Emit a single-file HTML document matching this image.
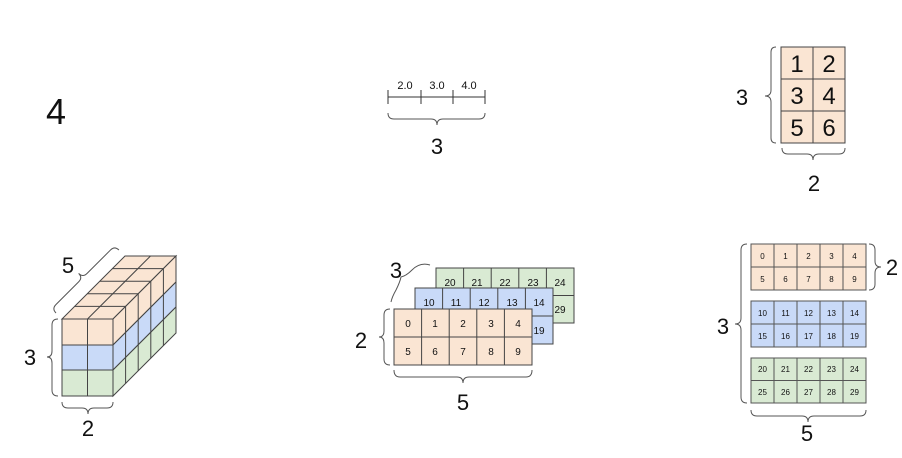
<!DOCTYPE html>
<html><head><meta charset="utf-8"><style>
html,body{margin:0;padding:0;background:#fff;}
svg{display:block;}
text{font-family:"Liberation Sans",sans-serif;fill:#111;}
</style></head><body>
<svg width="902" height="458" viewBox="0 0 902 458" xmlns="http://www.w3.org/2000/svg">
<g fill="none" stroke="#555" stroke-width="1">
<!-- vector -->
<line x1="388" y1="97" x2="485" y2="97" stroke="#333"/>
<line x1="388" y1="90" x2="388" y2="104" stroke="#333"/>
<line x1="421" y1="90" x2="421" y2="104" stroke="#333"/>
<line x1="453" y1="90" x2="453" y2="104" stroke="#333"/>
<line x1="485" y1="90" x2="485" y2="104" stroke="#333"/>
<path d="M388 113 Q388 119 394 119 L431 119 Q437 119 437 125 Q437 119 443 119 L479 119 Q485 119 485 113"/>
<!-- matrix braces -->
<path d="M776 47 Q771 47 771 52 L771 90 Q771 96 765 96 Q771 96 771 102 L771 138 Q771 143 776 143"/>
<path d="M782 148 Q782 154 788 154 L807 154 Q813 154 813 160 Q813 154 819 154 L839 154 Q845 154 845 148"/>
<!-- cube braces -->
<path d="M58 319 Q52 319 52 325 L52 351 Q52 357 47 357 Q52 357 52 363 L52 390 Q52 396 58 396"/>
<path d="M62 402 Q62 408 68 408 L82 408 Q88 408 88 414 Q88 408 94 408 L107 408 Q113 408 113 402"/>
<g transform="translate(56,313) rotate(-45)"><path d="M0 0 Q0 -6 6 -6 L38 -6 Q44 -6 44 -12 Q44 -6 50 -6 L83 -6 Q89 -6 89 0"/></g>
<!-- stack braces -->
<path d="M390 309 Q384 309 384 315 L384 331 Q384 337 379 337 Q384 337 384 343 L384 359 Q384 365 390 365"/>
<path d="M394 370 Q394 377 400 377 L457 377 Q463 377 463 383 Q463 377 469 377 L526 377 Q532 377 532 370"/>
<path d="M430 265 Q420 262 412 270 Q406 276 401 277 Q400 282 396 290 Q392 297 391 302"/>
<!-- right column braces -->
<path d="M747 244 Q741 244 741 250 L741 318 Q741 324 735 324 Q741 324 741 330 L741 397 Q741 403 747 403"/>
<path d="M869 244 Q875 244 875 250 L875 261 Q875 267 881 267 Q875 267 875 273 L875 284 Q875 290 869 290"/>
<path d="M751 410 Q751 416 757 416 L802 416 Q808 416 808 422 Q808 416 814 416 L860 416 Q866 416 866 410"/>
</g>

<g font-size="36"><text x="46" y="124">4</text></g>
<g font-size="11" text-anchor="middle"><text x="405" y="89">2.0</text><text x="437" y="89">3.0</text><text x="469" y="89">4.0</text></g>
<g font-size="22" text-anchor="middle">
<text x="437" y="154">3</text>
<text x="742" y="105">3</text>
<text x="814" y="191">2</text>
<text x="30" y="365">3</text>
<text x="88" y="436">2</text>
<text x="68" y="273">5</text>
<text x="361" y="348">2</text>
<text x="396" y="278">3</text>
<text x="463" y="410">5</text>
<text x="723" y="334">3</text>
<text x="892" y="275">2</text>
<text x="807" y="441">5</text>
</g>

<!-- matrix -->
<g stroke="#444" stroke-width="1">
<rect x="781" y="47" width="64" height="96" fill="#fae5d3"/>
<line x1="813" y1="47" x2="813" y2="143"/><line x1="781" y1="79" x2="845" y2="79"/><line x1="781" y1="111" x2="845" y2="111"/>
</g>
<g font-size="24" text-anchor="middle">
<text x="797" y="72">1</text><text x="829" y="72">2</text>
<text x="797" y="104">3</text><text x="829" y="104">4</text>
<text x="797" y="136">5</text><text x="829" y="136">6</text>
</g>

<!-- cube -->
<g stroke="#444" stroke-width="1">
<polygon points="62,319 113,319 176,256 125,256" fill="#fae5d3"/>
<polygon points="113,319 176,256 176,282 113,345" fill="#fae5d3"/>
<polygon points="113,345 176,282 176,307 113,370" fill="#c9daf8"/>
<polygon points="113,370 176,307 176,333 113,396" fill="#d9ead3"/>
<rect x="62" y="319" width="51" height="26" fill="#fae5d3"/>
<rect x="62" y="345" width="51" height="25" fill="#c9daf8"/>
<rect x="62" y="370" width="51" height="26" fill="#d9ead3"/>
<line x1="87.5" y1="319" x2="87.5" y2="396"/>
<line x1="87.5" y1="319" x2="150.5" y2="256"/>
<line x1="74.6" y1="306.4" x2="125.6" y2="306.4"/>
<line x1="87.2" y1="293.8" x2="138.2" y2="293.8"/>
<line x1="99.8" y1="281.2" x2="150.8" y2="281.2"/>
<line x1="112.4" y1="268.6" x2="163.4" y2="268.6"/>
<line x1="125.6" y1="306.4" x2="125.6" y2="383.4"/>
<line x1="138.2" y1="293.8" x2="138.2" y2="370.8"/>
<line x1="150.8" y1="281.2" x2="150.8" y2="358.2"/>
<line x1="163.4" y1="268.6" x2="163.4" y2="345.6"/>
</g>

<!-- stack: green -->
<g stroke="#444" stroke-width="1" fill="#d9ead3">
<rect x="436" y="268" width="138" height="55"/>
<line x1="463.6" y1="268" x2="463.6" y2="323"/><line x1="491.2" y1="268" x2="491.2" y2="323"/><line x1="518.8" y1="268" x2="518.8" y2="323"/><line x1="546.4" y1="268" x2="546.4" y2="323"/>
<line x1="436" y1="295.5" x2="574" y2="295.5"/>
</g>
<g font-size="10" text-anchor="middle"><text x="450" y="286">20</text><text x="477" y="286">21</text><text x="505" y="286">22</text><text x="533" y="286">23</text><text x="560" y="286">24</text><text x="560" y="313">29</text></g>
<g stroke="#444" stroke-width="1" fill="#c9daf8">
<rect x="415" y="288" width="138" height="56"/>
<line x1="442.6" y1="288" x2="442.6" y2="344"/><line x1="470.2" y1="288" x2="470.2" y2="344"/><line x1="497.8" y1="288" x2="497.8" y2="344"/><line x1="525.4" y1="288" x2="525.4" y2="344"/>
<line x1="415" y1="316" x2="553" y2="316"/>
</g>
<g font-size="10" text-anchor="middle"><text x="429" y="306">10</text><text x="456" y="306">11</text><text x="484" y="306">12</text><text x="512" y="306">13</text><text x="539" y="306">14</text><text x="539" y="334">19</text></g>
<g stroke="#444" stroke-width="1" fill="#fae5d3">
<rect x="394" y="309" width="138" height="56"/>
<line x1="421.6" y1="309" x2="421.6" y2="365"/><line x1="449.2" y1="309" x2="449.2" y2="365"/><line x1="476.8" y1="309" x2="476.8" y2="365"/><line x1="504.4" y1="309" x2="504.4" y2="365"/>
<line x1="394" y1="337" x2="532" y2="337"/>
</g>
<g font-size="10" text-anchor="middle">
<text x="408" y="327">0</text><text x="435" y="327">1</text><text x="463" y="327">2</text><text x="491" y="327">3</text><text x="518" y="327">4</text>
<text x="408" y="355">5</text><text x="435" y="355">6</text><text x="463" y="355">7</text><text x="491" y="355">8</text><text x="518" y="355">9</text>
</g>

<!-- right column -->
<g stroke="#555" stroke-width="1">
<rect x="751" y="244" width="115" height="46" fill="#fae5d3"/>
<rect x="751" y="301" width="115" height="46" fill="#c9daf8"/>
<rect x="751" y="358" width="115" height="45" fill="#d9ead3"/>
<line x1="751" y1="267" x2="866" y2="267"/><line x1="751" y1="324" x2="866" y2="324"/><line x1="751" y1="380.5" x2="866" y2="380.5"/>
<line x1="774" y1="244" x2="774" y2="290"/><line x1="797" y1="244" x2="797" y2="290"/><line x1="820" y1="244" x2="820" y2="290"/><line x1="843" y1="244" x2="843" y2="290"/>
<line x1="774" y1="301" x2="774" y2="347"/><line x1="797" y1="301" x2="797" y2="347"/><line x1="820" y1="301" x2="820" y2="347"/><line x1="843" y1="301" x2="843" y2="347"/>
<line x1="774" y1="358" x2="774" y2="403"/><line x1="797" y1="358" x2="797" y2="403"/><line x1="820" y1="358" x2="820" y2="403"/><line x1="843" y1="358" x2="843" y2="403"/>
</g>
<g font-size="8" text-anchor="middle">
<text x="762.5" y="259">0</text><text x="785.5" y="259">1</text><text x="808.5" y="259">2</text><text x="831.5" y="259">3</text><text x="854.5" y="259">4</text>
<text x="762.5" y="282">5</text><text x="785.5" y="282">6</text><text x="808.5" y="282">7</text><text x="831.5" y="282">8</text><text x="854.5" y="282">9</text>
<text x="762.5" y="316">10</text><text x="785.5" y="316">11</text><text x="808.5" y="316">12</text><text x="831.5" y="316">13</text><text x="854.5" y="316">14</text>
<text x="762.5" y="339">15</text><text x="785.5" y="339">16</text><text x="808.5" y="339">17</text><text x="831.5" y="339">18</text><text x="854.5" y="339">19</text>
<text x="762.5" y="372">20</text><text x="785.5" y="372">21</text><text x="808.5" y="372">22</text><text x="831.5" y="372">23</text><text x="854.5" y="372">24</text>
<text x="762.5" y="395">25</text><text x="785.5" y="395">26</text><text x="808.5" y="395">27</text><text x="831.5" y="395">28</text><text x="854.5" y="395">29</text>
</g>
</svg>
</body></html>
